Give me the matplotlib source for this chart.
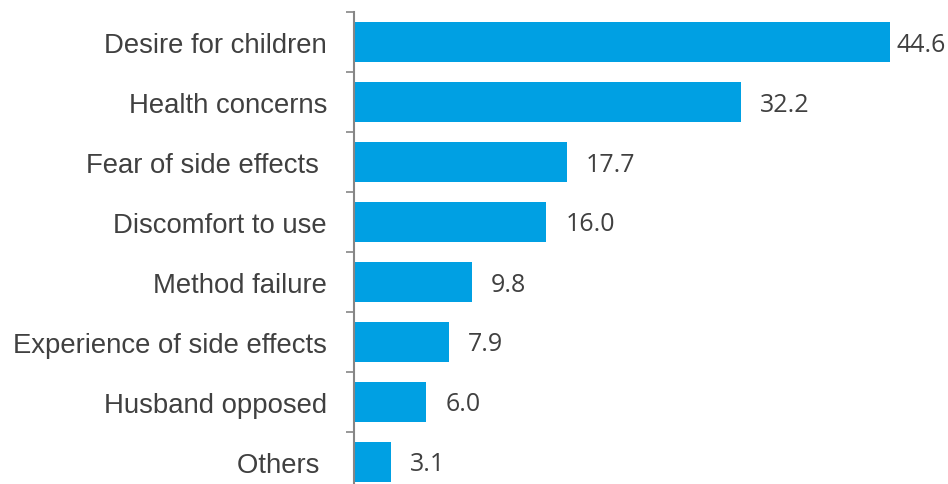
import matplotlib
matplotlib.use("Agg")
import matplotlib.pyplot as plt
import numpy as np

categories = ["Desire for children", "Health concerns", "Fear of side effects ",
              "Discomfort to use", "Method failure", "Experience of side effects",
              "Husband opposed", "Others "]
values = [44.6, 32.2, 17.7, 16.0, 9.8, 7.9, 6.0, 3.1]

bar_color = "#00A0E3"
text_color = "#404040"
axis_color = "#868686"

fig = plt.figure(figsize=(9.48, 4.85), dpi=100)
ax = fig.add_axes([354 / 948, -8 / 485, 594 / 948, 480 / 485])

y = np.arange(len(categories))
ax.barh(y, values, height=0.67, color=bar_color, zorder=2)

ax.set_xlim(0, 49.4)
ax.set_ylim(len(categories) - 0.5, -0.5)

# value labels, px offsets converted to points
for i, v in enumerate(values):
    off = 6 if v == max(values) else 19
    ax.annotate(f"{v:.1f}", (v, i), xytext=(off * 0.72, -2 * 0.72), textcoords="offset points",
                va="center", ha="left", fontsize=18, family="Open Sans", color=text_color)

ax.set_yticks(y)
ax.set_yticklabels(categories, fontsize=19.8, family="Liberation Sans", color=text_color)
ax.tick_params(axis="y", which="major", length=0, pad=27 * 0.72)
ax.set_yticks(np.arange(-0.5, len(categories), 1), minor=True)
ax.tick_params(axis="y", which="minor", length=6, width=1.2, color=axis_color)

ax.set_xticks([])
for s in ["top", "right", "bottom"]:
    ax.spines[s].set_visible(False)
ax.spines["left"].set_color(axis_color)
ax.spines["left"].set_linewidth(1.5)

fig.savefig("out.png", dpi=100)
